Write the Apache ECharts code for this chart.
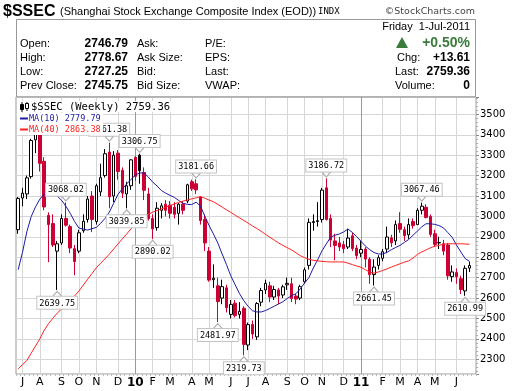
<!DOCTYPE html>
<html><head><meta charset="utf-8">
<script src="https://cdn.jsdelivr.net/npm/echarts@6/dist/echarts.min.js"></script>
<style>html,body{margin:0;padding:0;background:#fff}#c{width:520px;height:391px}</style>
</head><body><div id="c"></div>
<script>
const dates = ['2009-07-03','2009-07-10','2009-07-17','2009-07-24','2009-07-31','2009-08-07','2009-08-14','2009-08-21','2009-08-28','2009-09-04','2009-09-11','2009-09-18','2009-09-25','2009-10-02','2009-10-09','2009-10-16','2009-10-23','2009-10-30','2009-11-06','2009-11-13','2009-11-20','2009-11-27','2009-12-04','2009-12-11','2009-12-18','2009-12-25','2010-01-01','2010-01-08','2010-01-15','2010-01-22','2010-01-29','2010-02-05','2010-02-12','2010-02-19','2010-02-26','2010-03-05','2010-03-12','2010-03-19','2010-03-26','2010-04-02','2010-04-09','2010-04-16','2010-04-23','2010-04-30','2010-05-07','2010-05-14','2010-05-21','2010-05-28','2010-06-04','2010-06-11','2010-06-18','2010-06-25','2010-07-02','2010-07-09','2010-07-16','2010-07-23','2010-07-30','2010-08-06','2010-08-13','2010-08-20','2010-08-27','2010-09-03','2010-09-10','2010-09-17','2010-09-24','2010-10-01','2010-10-08','2010-10-15','2010-10-22','2010-10-29','2010-11-05','2010-11-12','2010-11-19','2010-11-26','2010-12-03','2010-12-10','2010-12-17','2010-12-24','2010-12-31','2011-01-07','2011-01-14','2011-01-21','2011-01-28','2011-02-04','2011-02-11','2011-02-18','2011-02-25','2011-03-04','2011-03-11','2011-03-18','2011-03-25','2011-04-01','2011-04-08','2011-04-15','2011-04-22','2011-04-29','2011-05-06','2011-05-13','2011-05-20','2011-05-27','2011-06-03','2011-06-10','2011-06-17','2011-06-24','2011-07-01'];

const opens = [2935,3090,3110,3195,3375,3410,3270,3005,2965,2830,2870,2990,2950,2842,2830,2930,2985,3100,2975,3120,3200,3315,3100,3310,3226,3110,3150,3289,3300,3215,3110,2990,2945,3030,3060,3055,3045,3015,3060,3075,3170,3160,3095,2985,2830,2690,2660,2600,2650,2520,2575,2520,2550,2370,2470,2410,2580,2640,2660,2605,2640,2615,2665,2670,2610,2600,2680,2760,2970,2975,2985,3140,2990,2880,2870,2862,2850,2905,2845,2820,2840,2790,2715,2760,2795,2840,2895,2880,2965,2935,2910,2975,2960,3030,3045,3000,2915,2870,2866,2860,2705,2725,2695,2635,2746.79];
const highs = [3095,3140,3200,3380,3455,3478,3290,3020,3010,2880,3010,3068.02,2960,2860,2935,3010,3100,3124,3160,3258,3330,3361.38,3320,3325,3240,3170,3280,3295,3306.75,3240,3140,3010,3070,3065,3080,3075,3070,3065,3075,3160,3180,3181.66,3100,3010,2850,2765,2700,2690,2665,2590,2590,2580,2560,2480,2490,2580,2650,2690,2680,2660,2650,2665,2700,2700,2620,2665,2750,2990,3010,3070,3140,3186.72,3010,2915,2900,2880,2940,2920,2860,2880,2850,2800,2790,2810,2840,2950,2910,2980,3021,2950,2990,2990,3040,3067.46,3060,3010,2935,2900,2885,2870,2760,2745,2710,2760,2778.67];
const lows = [2915,3050,3085,3185,3310,3220,3030,2776,2850,2639.75,2860,2950,2820,2712,2820,2920,2970,2923,2960,3100,3190,3040,3070,3180,3090,3039.85,3130,3175,3160,3080,2980,2890.02,2930,2990,3000,2990,2990,2960,3010,3065,3125,3110,2960,2830,2680,2650,2481.97,2570,2530,2500,2505,2500,2319.73,2345,2400,2395,2560,2620,2580,2590,2570,2600,2640,2580,2570,2590,2670,2740,2930,2950,2970,2980,2850,2785,2830,2820,2840,2830,2790,2800,2750,2670,2661.45,2740,2780,2820,2850,2860,2920,2880,2890,2940,2960,3010,2990,2900,2850,2840,2810,2690,2680,2670,2620,2610.99,2727.25];
const closes = [3088,3114,3189,3372,3412,3260,3046,2960,2860,2866,2990,2957,2845,2779,2920,2976,3085,2985,3150,3190,3307,3096,3300,3220,3114,3150,3277,3196,3224,3128,2989,2939,3040,3052,3030,3015,3010,3060,3030,3155,3135,3130,2980,2870,2688,2697,2583,2656,2553,2569,2514,2535,2373,2470,2424,2573,2637,2672,2605,2642,2610,2655,2672,2598,2595,2656,2738,2971,2975,2979,3129,2985,2884,2858,2850,2842,2894,2842,2808,2838,2791,2715,2752,2798,2827,2899,2871,2960,2937,2906,2960,2955,3030,3050,2995,2912,2863,2872,2830,2709,2728,2705,2642,2745.75,2759.36];

const ma10 = [2739,2824,2925,2999,3047,3085,3110,3119,3115,3100,3079,3050,3015,2975,2943,2938,2933,2940,2946,2966,2990,3021,3064,3108,3135,3159,3181,3203,3213,3213,3193,3168,3149,3127,3114,3103,3093,3078,3064,3059,3058,3070,3051,3002,2955,2914,2870,2816,2764,2709,2665,2622,2587,2559,2538,2532,2532,2539,2549,2560,2571,2582,2598,2612,2621,2645,2674,2700,2747,2787,2831,2865,2898,2908,2914,2924,2938,2922,2901,2878,2855,2837,2823,2816,2816,2824,2837,2848,2858,2873,2887,2908,2928,2949,2964,2964,2961,2955,2944,2921,2898,2860,2826,2794,2779.79];
const ma40 = [2253,2274,2294,2330,2365,2400,2442,2475,2501,2526,2547,2569,2590,2610,2635,2663,2692,2720,2748,2771,2792,2815,2840,2865,2890,2914,2939,2962,2987,3000,3010,3021,3029,3037,3045,3053,3061,3069,3075,3081,3086,3091,3097,3089,3080,3072,3059,3046,3032,3020,3006,2993,2980,2967,2953,2941,2927,2912,2898,2884,2870,2858,2847,2836,2822,2808,2798,2790,2785,2782,2780,2778,2777,2777,2777,2777,2771,2764,2757,2751,2739,2727,2722,2728,2735,2743,2752,2760,2768,2776,2782,2796,2814,2826,2836,2846,2854,2858,2864,2866,2866,2866,2866,2865,2863.38];

const monthIdx = [1,5,10,14,18,23,27,31,35,40,44,49,53,57,62,66,70,75,79,84,88,92,96,101];
const monthLbl = ['J','A','S','O','N','D','10','F','M','A','M','J','J','A','S','O','N','D','11','F','M','A','M','J'];
const yearLbl = ['10','11'];

const annoIdx = [9,11,21,25,28,31,41,46,52,71,82,93,103];
const annoVal = [2639.75,3068.02,3361.38,3039.85,3306.75,2890.02,3181.66,2481.97,2319.73,3186.72,2661.45,3067.46,2610.99];
const annoSide = ['low','high','high','low','high','low','high','low','low','high','low','high','low'];

const RED = '#CC0033';
const cats = dates.concat(['']);
const candleData = dates.map((d, i) => {
  const item = { value: [opens[i], closes[i], lows[i], highs[i]] };
  if (closes[i] < opens[i] && i > 0 && closes[i] > closes[i - 1]) {
    item.itemStyle = { color: '#000', color0: '#000', borderColor: '#000', borderColor0: '#000' };
  }
  return item;
});
const lblMap = {};
monthIdx.forEach((ix, k) => { lblMap[ix] = monthLbl[k]; });

const sans = '"Liberation Sans", Arial, sans-serif';
function txt(x, y, text, font, fill, align) {
  return { type: 'text', x: x, y: y, z: 100, silent: true,
    style: { text: text, font: font, fill: fill || '#000', align: align || 'left', textAlign: align || 'left', verticalAlign: 'middle', textVerticalAlign: 'middle' } };
}

const graphics = [
  { type: 'rect', z: 99, silent: true, shape: { x: 16.5, y: 19.5, width: 459, height: 77.5 }, style: { fill: 'none', stroke: '#999', lineWidth: 1 } },
  txt(3, 12, '$SSEC', 'bold 16px ' + sans),
  txt(60, 12, '(Shanghai Stock Exchange Composite Index (EOD))', '11px ' + sans),
  txt(318, 12, 'INDX', '9px "DejaVu Sans Mono"'),
  txt(475, 12, '\u00A9StockCharts.com', '9.5px "DejaVu Sans"', '#444', 'right'),
  txt(20, 44, 'Open:', '11px ' + sans), txt(20, 58, 'High:', '11px ' + sans), txt(20, 72, 'Low:', '11px ' + sans), txt(20, 86, 'Prev Close:', '11px ' + sans),
  txt(128, 44, '2746.79', 'bold 12px ' + sans, '#000', 'right'), txt(128, 58, '2778.67', 'bold 12px ' + sans, '#000', 'right'),
  txt(128, 72, '2727.25', 'bold 12px ' + sans, '#000', 'right'), txt(128, 86, '2745.75', 'bold 12px ' + sans, '#000', 'right'),
  txt(137, 44, 'Ask:', '11px ' + sans), txt(137, 58, 'Ask Size:', '11px ' + sans), txt(137, 72, 'Bid:', '11px ' + sans), txt(137, 86, 'Bid Size:', '11px ' + sans),
  txt(205, 44, 'P/E:', '11px ' + sans), txt(205, 58, 'EPS:', '11px ' + sans), txt(205, 72, 'Last:', '11px ' + sans), txt(205, 86, 'VWAP:', '11px ' + sans),
  txt(470, 27, 'Friday  1-Jul-2011', '11px ' + sans, '#000', 'right'),
  { type: 'polygon', z: 100, silent: true, shape: { points: [[396, 48], [408, 48], [402, 37]] }, style: { fill: '#3a7a3a' } },
  txt(470, 43, '+0.50%', 'bold 14px ' + sans, '#3a7a3a', 'right'),
  txt(397, 58, 'Chg:', '11px ' + sans), txt(470, 58, '+13.61', 'bold 12px ' + sans, '#000', 'right'),
  txt(395, 72, 'Last:', '11px ' + sans), txt(470, 72, '2759.36', 'bold 12px ' + sans, '#000', 'right'),
  txt(395, 86, 'Volume:', '11px ' + sans), txt(470, 86, '0', 'bold 12px ' + sans, '#000', 'right'),
  { type: 'rect', z: 99, silent: true, shape: { x: 17, y: 101, width: 156, height: 11 }, style: { fill: '#fff' } },
  { type: 'rect', z: 99, silent: true, shape: { x: 17, y: 113, width: 86, height: 11 }, style: { fill: '#fff' } },
  { type: 'rect', z: 99, silent: true, shape: { x: 17, y: 124, width: 86, height: 11 }, style: { fill: '#fff' } },
  { type: 'line', z: 100, silent: true, shape: { x1: 22, y1: 102, x2: 22, y2: 112 }, style: { stroke: '#000', lineWidth: 1 } },
  { type: 'rect', z: 100, silent: true, shape: { x: 20.5, y: 104.5, width: 3, height: 5 }, style: { fill: '#000', stroke: '#000', lineWidth: 1 } },
  { type: 'line', z: 100, silent: true, shape: { x1: 27, y1: 102, x2: 27, y2: 111 }, style: { stroke: '#000', lineWidth: 1 } },
  { type: 'rect', z: 100, silent: true, shape: { x: 25.5, y: 103.5, width: 3, height: 5 }, style: { fill: '#fff', stroke: '#000', lineWidth: 1 } },
  txt(31, 107, '$SSEC (Weekly) 2759.36', '10.5px "DejaVu Sans Mono"'),
  { type: 'line', z: 100, silent: true, shape: { x1: 20, y1: 118.5, x2: 28, y2: 118.5 }, style: { stroke: '#1c1ca0', lineWidth: 2 } },
  txt(29, 118.5, 'MA(10) 2779.79', '8.5px "DejaVu Sans Mono"', '#1c1ca0'),
  { type: 'line', z: 100, silent: true, shape: { x1: 20, y1: 129.5, x2: 28, y2: 129.5 }, style: { stroke: '#ff2222', lineWidth: 2 } },
  txt(29, 129.5, 'MA(40) 2863.38', '8.5px "DejaVu Sans Mono"', '#ff2222')
];

const chart = echarts.init(document.getElementById('c'), null, { renderer: 'canvas' });
chart.setOption({
  animation: false,
  backgroundColor: '#fff',
  grid: { left: 16, top: 97, width: 460, height: 277, show: true, borderColor: '#999', borderWidth: 1, containLabel: false, outerBoundsMode: 'none' },
  xAxis: {
    type: 'category', data: cats, boundaryGap: true,
    axisLine: { show: false },
    axisTick: { show: true, interval: 0, length: 2, lineStyle: { color: '#bbb' } },
    axisLabel: {
      interval: (i) => lblMap[i] !== undefined,
      formatter: (v, i) => { const l = lblMap[i] || ''; return yearLbl.includes(l) ? '{b|' + l + '}' : l; },
      margin: 3, color: '#000', fontFamily: 'DejaVu Sans', fontSize: 11,
      rich: { b: { fontWeight: 'bold', fontSize: 12, fontFamily: 'DejaVu Sans', color: '#000' } }
    },
    splitLine: { show: false }
  },
  yAxis: {
    type: 'value', position: 'right', min: 2228, max: 3585, minInterval: 100, maxInterval: 100, splitNumber: 12,
    axisLine: { show: false },
    axisTick: { show: true, length: 3, lineStyle: { color: '#888' } },
    minorTick: { show: true, splitNumber: 5, length: 2, lineStyle: { color: '#aaa' } },
    axisLabel: { formatter: (v) => (Math.round(v) % 100 === 0 ? String(Math.round(v)) : ''), margin: 4, fontFamily: 'DejaVu Sans', fontSize: 10, color: '#000', showMinLabel: false, showMaxLabel: false },
    splitLine: { show: true, lineStyle: { color: '#d6d6d6', width: 1 } }
  },
  series: [
    {
      type: 'candlestick', data: candleData, barWidth: 3, z: 2,
      itemStyle: { color: '#fff', color0: RED, borderColor: '#000', borderColor0: RED, borderColorDoji: '#000', borderWidth: 1 },
      emphasis: { disabled: true },
      markLine: {
        silent: true, z: 1, symbol: ['none', 'none'], label: { show: false }, animation: false,
        emphasis: { disabled: true },
        data: monthIdx.map((ix, k) => ({ xAxis: ix, lineStyle: { color: yearLbl.includes(monthLbl[k]) ? '#9a9a9a' : '#d6d6d6', width: 1, type: 'solid' } }))
      },
      markPoint: {
        silent: true, z: 6, animation: false,
        data: annoIdx.map((ix, k) => {
          const hi = annoSide[k] === 'high';
          return {
            name: annoVal[k].toFixed(2), coord: [ix, annoVal[k]],
            symbol: hi ? 'path://M0,0L10,0L5,6Z' : 'path://M5,0L10,6L0,6Z',
            symbolSize: [9, 5], symbolOffset: [0, hi ? -4 : 4],
            itemStyle: { color: '#fff', borderColor: '#aaa', borderWidth: 1 },
            label: { show: true, position: hi ? 'top' : 'bottom', distance: 0, formatter: '{b}',
              fontFamily: 'DejaVu Sans Mono', fontSize: 8.5, color: '#000', backgroundColor: '#fff',
              borderColor: '#c4c4c4', borderWidth: 1, padding: [2, 2, 1, 2] }
          };
        })
      }
    },
    { type: 'line', data: ma10, symbol: 'none', z: 3, silent: true, lineStyle: { color: '#1c1ca0', width: 1 } },
    { type: 'line', data: ma40, symbol: 'none', z: 3, silent: true, lineStyle: { color: '#ff2222', width: 1 } }
  ],
  graphic: { elements: graphics }
});
</script>
</body></html>
